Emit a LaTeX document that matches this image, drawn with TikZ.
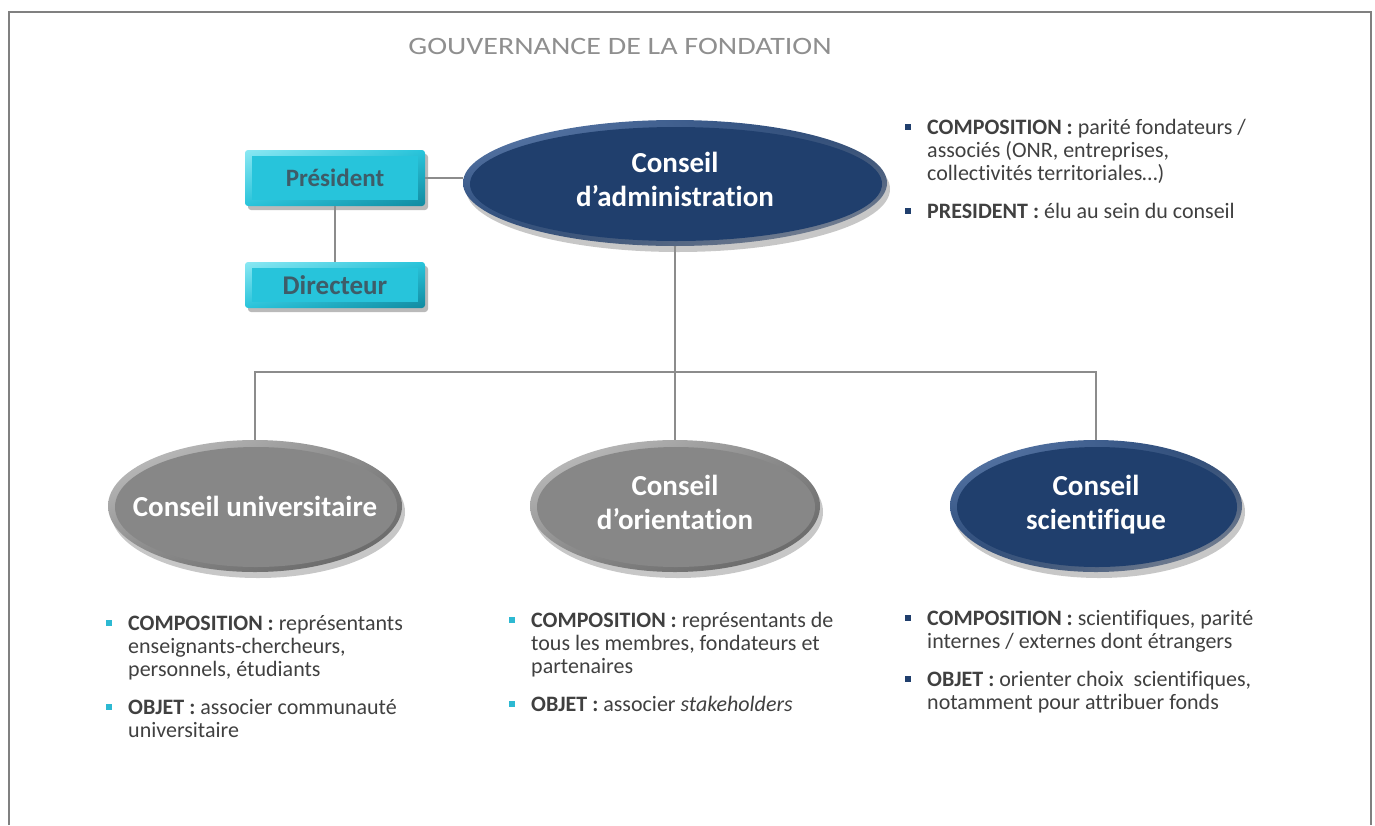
\documentclass[tikz,border=0pt]{standalone}
\usepackage{fontspec}
\setmainfont{Carlito}[Ligatures=NoCommon]
\usetikzlibrary{shapes.geometric,shadings}
\definecolor{navy}{HTML}{203F6D}
\definecolor{navylight}{HTML}{5F7FB0}
\definecolor{navyrim}{HTML}{8A8F99}
\definecolor{grayfill}{HTML}{878787}
\definecolor{graylight}{HTML}{C8C8C8}
\definecolor{graydark}{HTML}{606060}
\definecolor{cyanbox}{HTML}{27C4DB}
\definecolor{cyanlight}{HTML}{8BE8F3}
\definecolor{cyandark}{HTML}{118AA0}
\definecolor{boxtext}{HTML}{3E5C68}
\definecolor{bodytext}{HTML}{404040}
\definecolor{linegray}{HTML}{8C8C8C}
\definecolor{framegray}{HTML}{808080}
\definecolor{bulletcyan}{HTML}{2DB9D2}
\definecolor{titlegray}{HTML}{8F8F8F}
\newcommand\bevelell[7]{%
  \fill[black!40, opacity=0.55] (#1+3,#2+6) ellipse ({#3} and {#4});
  \shade[upper left=#6, upper right=#5, lower left=#5, lower right=#7] (#1,#2) ellipse ({#3} and {#4});
  \fill[#5] (#1+1,#2+1) ellipse ({#3-6} and {#4-6});
}
\newcommand\bevelbox[5]{% x1 y1 x2 y2
  \fill[black!45, opacity=0.6, rounded corners=3pt] (#1+3,#2+4) rectangle (#3+3,#4+4);
  \shade[upper left=cyanlight, upper right=cyanbox, lower left=cyanbox, lower right=cyandark, rounded corners=3pt] (#1,#2) rectangle (#3,#4);
  \fill[cyanbox] (#1+7,#2+6) rectangle (#3-7,#4-6);
}
\newcommand\bitem[2]{\makebox[22pt][l]{\textcolor{#1}{\rule[0.2em]{6pt}{6pt}}}\begin{tabular}[t]{@{}l@{}}#2\end{tabular}}
\tikzset{
  council/.style={shape=ellipse, inner sep=0pt, text=white, font=\fontsize{29}{34}\selectfont\bfseries, align=center},
  rolebox/.style={shape=rectangle, inner sep=0pt, text=boxtext, font=\bfseries},
  textblock/.style={anchor=north west, inner sep=0pt, align=left, text=bodytext, font=\fontsize{22}{23}\selectfont},
  link/.style={draw=linegray, line width=1.3pt},
}
\begin{document}
\begin{tikzpicture}[x=1pt,y=-1pt]
\useasboundingbox (0,0) rectangle (1375,825);
\draw[framegray, line width=2pt] (8.5,825) -- (8.5,12) -- (1370.5,12) -- (1370.5,825);
\node[text=titlegray, font=\fontsize{25}{30}\selectfont] (title) at (620,46) {\scalebox{1.2}[1]{GOUVERNANCE DE LA FONDATION}};

% shapes
\bevelbox{245}{150}{425}{206}{}
\bevelbox{245}{262}{425}{308}{}
\bevelell{675}{183}{212}{63}{navy}{navylight}{navyrim}
\bevelell{255}{506}{147}{66}{grayfill}{graylight}{graydark}
\bevelell{675}{506}{145}{66}{grayfill}{graylight}{graydark}
\bevelell{1096}{506}{146}{66}{navy}{navylight}{navyrim}

% nodes
\node[rolebox, minimum width=180pt, minimum height=56pt, font=\fontsize{25}{30}\selectfont\bfseries] (pres) at (335,178) {Président};
\node[rolebox, minimum width=180pt, minimum height=46pt, font=\fontsize{27}{32}\selectfont\bfseries] (dir) at (335,285) {Directeur};
\node[council, minimum width=424pt, minimum height=126pt] (ca) at (675,183) {\raisebox{3pt}{\begin{tabular}{@{}c@{}}Conseil\\d’administration\end{tabular}}};
\node[council, minimum width=294pt, minimum height=132pt] (cu) at (255,506) {Conseil universitaire};
\node[council, minimum width=290pt, minimum height=132pt] (co) at (675,506) {\raisebox{2pt}{\begin{tabular}{@{}c@{}}Conseil\\d’orientation\end{tabular}}};
\node[council, minimum width=292pt, minimum height=132pt] (cs) at (1096,506) {\raisebox{2pt}{\begin{tabular}{@{}c@{}}Conseil\\scientifique\end{tabular}}};
\coordinate (bus) at (675,372);

% connectors
\draw[link] (pres.south) -- (dir.north);
\draw[link] (pres.east) -- (pres.east -| ca.west);
\draw[link] (ca.south) -- (co.north);
\draw[link] (cu.north) |- (bus) -| (cs.north);

% text blocks
\node[textblock] (tca) at (905,118) {\bitem{navy}{\textbf{COMPOSITION :} parité fondateurs /\\associés (ONR, entreprises,\\collectivités territoriales…)}\\[14pt]\bitem{navy}{\textbf{PRESIDENT :} élu au sein du conseil}};
\node[textblock] (tcu) at (106,614) {\bitem{bulletcyan}{\textbf{COMPOSITION :} représentants\\enseignants-chercheurs,\\personnels, étudiants}\\[14pt]\bitem{bulletcyan}{\textbf{OBJET :} associer communauté\\universitaire}};
\node[textblock] (tco) at (509,611) {\bitem{bulletcyan}{\textbf{COMPOSITION :} représentants de\\tous les membres, fondateurs et\\partenaires}\\[14pt]\bitem{bulletcyan}{\textbf{OBJET :} associer \textit{stakeholders}}};
\node[textblock] (tcs) at (905,609) {\bitem{navy}{\textbf{COMPOSITION :} scientifiques, parité\\internes / externes dont étrangers}\\[14pt]\bitem{navy}{\textbf{OBJET :} orienter choix~ scientifiques,\\notamment pour attribuer fonds}};
\end{tikzpicture}
\end{document}
